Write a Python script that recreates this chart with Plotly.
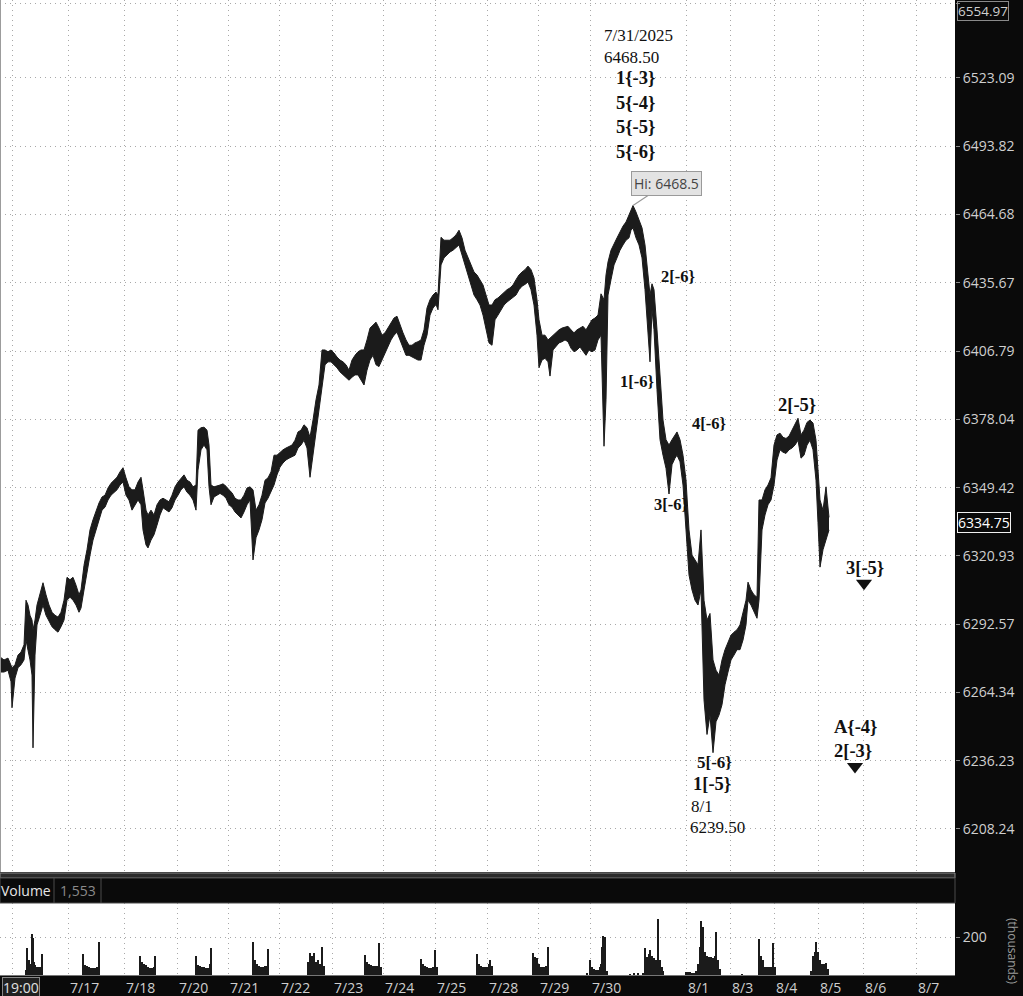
import numpy as np
import plotly.graph_objects as go

# ---------------- data ----------------
bar_idx = [0,4,8,11,12,15,18,21,24,26,28,30,32,33,35,37,40,43,46,49,52,55,58,61,64,67,70,73,76,79,81,84,87,90,93,96,99,
           102,105,108,111,114,117,120,123,126,129,132,135,138,141,143,146,148,151,154,157,160,163,166,169,172,175,178,181,
           184,187,190,193,196,198,201,204,207,209,211,214,217,220,223,226,229,232,235,238,241,244,247,250,253,256,259,262,
           265,268,271,274,277,280,283,286,289,292,295,298,301,304,307,310,313,316,319,322,325,328,331,334,337,340,343,346,
           349,352,355,358,361,364,367,370,373,376,379,382,385,388,391,394,397,400,403,406,409,412,415,418,421,424,427,430,
           433,436,438,441,444,447,450,453,456,459,462,465,468,471,474,477,480,483,486,489,492,495,498,501,504,507,510,513,
           516,519,522,525,528,531,534,537,539,542,545,548,550,553,556,559,562,565,568,571,574,577,580,583,586,589,592,595,
           598,601,604,606,608,611,614,617,620,623,626,629,631,633,636,639,642,645,648,650,652,654,657,660,663,666,669,672,
           675,677,680,683,686,689,692,695,698,701,704,707,710,713,716,719,722,725,728,731,734,737,740,743,746,748,751,754,
           757,759,762,765,768,771,774,777,780,783,786,789,792,795,798,801,804,807,810,813,816,818,820,823,826,829]

high = [6279.0,6277.75,6278.5,6275.75,6274.5,6275.75,6279.75,6281.0,6284.0,6302.5,6300.5,6296.25,6294.25,6290.25,6294.25,
        6300.5,6304.75,6309.75,6304.75,6300.5,6297.5,6296.25,6295.5,6297.5,6302.5,6312.0,6311.0,6312.0,6308.75,6304.75,
        6306.75,6317.0,6323.5,6331.75,6336.0,6340.0,6343.0,6345.5,6346.25,6349.25,6351.25,6352.5,6353.75,6356.0,6357.75,
        6353.5,6349.75,6348.5,6348.5,6351.75,6353.75,6348.5,6340.0,6338.0,6340.0,6338.0,6342.25,6344.25,6345.0,6344.25,
        6343.5,6346.25,6349.75,6351.75,6353.5,6354.75,6352.5,6351.75,6349.75,6350.5,6373.5,6374.5,6374.75,6373.5,6367.25,
        6350.5,6349.75,6350.0,6350.5,6351.0,6350.0,6348.5,6347.25,6345.0,6344.25,6344.25,6346.25,6349.25,6349.75,6348.5,
        6340.0,6342.25,6346.25,6352.5,6353.5,6356.0,6363.0,6363.0,6364.25,6365.25,6366.0,6366.5,6367.25,6369.25,6372.75,
        6373.5,6375.75,6374.5,6370.5,6377.75,6386.25,6392.5,6407.25,6407.25,6406.5,6407.25,6406.0,6404.25,6403.0,6402.25,
        6401.0,6398.75,6403.0,6405.0,6406.5,6407.25,6407.25,6411.5,6416.5,6417.75,6419.0,6416.5,6413.5,6414.5,6416.5,
        6418.75,6420.75,6421.5,6417.75,6414.5,6411.5,6409.25,6409.25,6410.25,6410.75,6411.5,6415.75,6425.0,6428.5,6430.5,
        6431.75,6430.5,6455.0,6453.75,6453.75,6453.75,6454.75,6456.0,6458.0,6454.75,6449.5,6446.25,6443.25,6440.25,6439.0,
        6437.0,6434.75,6430.5,6426.25,6426.25,6428.5,6429.25,6430.5,6431.75,6432.75,6433.5,6434.75,6437.0,6439.0,6440.25,
        6441.25,6442.75,6441.25,6437.75,6428.5,6420.0,6413.5,6413.5,6411.5,6412.25,6413.5,6414.75,6415.75,6416.5,6417.0,
        6417.25,6415.75,6414.5,6415.75,6416.5,6417.25,6415.75,6417.75,6420.0,6420.75,6422.0,6431.0,6428.5,6439.0,6444.5,
        6449.5,6452.5,6454.75,6457.25,6459.75,6461.5,6464.5,6466.5,6468.5,6465.75,6462.25,6459.0,6451.75,6437.0,6430.5,
        6435.25,6432.75,6415.75,6398.75,6377.75,6369.5,6367.25,6369.5,6371.5,6372.75,6369.5,6363.0,6352.5,6331.75,6321.25,
        6319.25,6317.25,6331.75,6302.5,6294.25,6297.0,6277.75,6273.5,6271.5,6277.75,6282.0,6285.25,6288.0,6289.25,6290.25,
        6292.25,6297.5,6302.5,6310.0,6306.75,6304.75,6303.75,6344.25,6344.25,6348.5,6350.5,6353.5,6367.25,6371.5,6372.25,
        6370.5,6370.0,6371.0,6373.5,6375.5,6378.5,6371.5,6373.5,6376.75,6377.75,6376.5,6369.25,6356.75,6344.25,6340.0,
        6349.75,6337.0]

low = [6272.75,6272.75,6273.5,6268.75,6258.0,6270.25,6274.5,6275.75,6277.75,6286.0,6281.75,6277.75,6271.5,6241.5,6279.75,
       6292.25,6296.25,6300.5,6296.25,6293.5,6291.5,6290.25,6289.25,6291.5,6294.25,6302.5,6303.75,6302.5,6300.5,6297.5,
       6299.25,6306.75,6315.0,6321.25,6327.5,6331.75,6336.0,6340.0,6341.25,6344.25,6346.25,6347.5,6348.5,6350.5,6351.75,
       6346.25,6344.25,6340.0,6342.25,6344.25,6342.25,6331.75,6325.5,6324.25,6327.5,6329.75,6333.75,6338.0,6341.0,6340.0,
       6339.25,6341.0,6344.25,6346.25,6348.5,6349.75,6347.5,6346.25,6344.25,6340.0,6356.75,6365.25,6367.25,6365.25,6349.75,
       6342.25,6345.5,6346.25,6347.0,6346.25,6345.0,6342.25,6341.25,6339.25,6338.0,6336.75,6339.25,6342.25,6344.25,6319.25,
       6328.5,6331.75,6336.0,6343.0,6345.0,6347.5,6350.5,6354.75,6358.0,6359.75,6361.0,6361.75,6362.25,6363.0,6366.0,
       6367.25,6369.25,6366.0,6353.75,6363.0,6373.5,6382.0,6390.5,6401.0,6402.25,6402.25,6401.0,6399.75,6398.0,6396.75,
       6395.5,6394.5,6395.75,6396.75,6396.75,6394.5,6392.5,6398.75,6403.0,6405.0,6401.0,6400.25,6403.0,6406.5,6409.25,
       6411.5,6413.5,6414.75,6411.5,6408.0,6405.0,6405.0,6404.25,6403.75,6403.0,6403.0,6409.25,6413.5,6422.0,6425.0,
       6426.5,6424.25,6443.25,6446.25,6447.5,6448.75,6449.5,6450.5,6451.75,6447.5,6443.25,6439.0,6434.75,6430.5,6428.5,
       6426.25,6422.0,6415.75,6410.25,6409.25,6420.0,6422.0,6424.25,6426.25,6427.5,6428.5,6429.25,6430.5,6432.75,6434.25,
       6435.0,6436.0,6432.75,6426.25,6413.5,6399.75,6403.0,6403.75,6402.25,6396.25,6407.25,6409.0,6410.25,6410.75,6411.5,
       6410.75,6408.0,6406.5,6407.25,6408.5,6406.5,6405.0,6407.25,6406.5,6407.25,6411.5,6413.5,6366.75,6386.25,6430.5,
       6437.0,6443.25,6446.25,6449.5,6451.75,6453.75,6454.75,6458.0,6459.0,6454.75,6451.75,6446.25,6432.75,6415.75,6402.25,
       6424.25,6415.75,6390.5,6369.5,6363.0,6357.5,6346.75,6359.0,6361.75,6363.0,6360.25,6350.5,6331.75,6313.0,6306.75,
       6302.5,6300.5,6306.75,6261.25,6247.0,6255.0,6239.5,6252.25,6255.0,6259.25,6267.5,6272.75,6277.75,6279.75,6282.0,
       6282.0,6286.0,6292.25,6302.5,6300.5,6297.5,6295.0,6302.5,6331.75,6338.0,6342.25,6344.25,6350.5,6361.0,6365.25,
       6364.25,6363.75,6365.25,6366.0,6367.25,6369.25,6361.75,6363.0,6367.25,6369.25,6365.25,6352.5,6334.75,6316.25,6323.5,
       6327.5,6331.75]

vol_bar = [26,27,29,30,32,33,34,35,37,39,41,42,
           83,85,87,89,91,93,95,97,99,
           140,142,144,146,148,150,152,154,155,
           196,198,200,202,204,206,208,210,211,
           253,255,257,259,261,263,265,266,268,
           308,310,312,314,316,318,320,322,324,
           365,367,369,371,373,375,377,379,381,
           421,423,425,427,429,431,433,435,437,
           477,479,481,483,485,487,489,490,492,
           533,535,537,539,541,543,545,546,548,
           587,590,592,594,596,598,600,601,602,603,605,607,
           630,634,638,643,645,647,649,650,652,654,656,658,660,662,663,
           686,688,690,692,694,696,698,700,701,703,705,707,709,711,713,715,716,718,720,
           742,759,761,763,765,767,769,771,773,775,
           811,813,815,816,818,820,822,824,826,828]
vol_k = [26,140,79,60,216,193,70,55,40,40,40,109,
         110,55,50,40,35,35,38,40,175,
         102,70,60,55,40,38,35,40,102,
         102,55,48,44,40,38,35,60,140,
         175,79,60,50,44,44,48,50,135,
         70,114,100,114,70,80,60,149,50,
         105,70,60,53,45,45,50,170,40,
         84,60,45,40,35,35,40,131,40,
         110,60,50,44,40,44,60,79,50,
         117,96,90,60,44,44,40,45,149,
         9,79,40,30,26,26,40,60,149,205,202,20,
         5,8,9,12,145,96,110,131,100,90,80,293,79,40,20,
         15,15,15,12,8,20,60,150,284,254,120,100,96,96,90,100,228,79,30,
         5,188,100,79,44,40,40,40,167,40,
         20,100,123,175,120,79,60,60,61,30]

price_ticks = [6554.97, 6523.09, 6493.82, 6464.68, 6435.67, 6406.79, 6378.04,
               6349.42, 6320.93, 6292.57, 6264.34, 6236.23, 6208.24]
last_price = 6334.75
session_grid = [12]
day_labels = ['7/17','7/18','7/20','7/21','7/22','7/23','7/24','7/25','7/28','7/29','7/30',
              '8/1','8/3','8/4','8/5','8/6','8/7']
day_start = [68,124,177,228,279,332,383,435,487,538,590,686,730,774,818,863,916]

# wave labels: (text, bar, price level, bold, size, anchor)
wave_labels = [
    ('7/31/2025', 602, 6541.2, False, 17, 'left'),
    ('6468.50', 602, 6531.7, False, 17, 'left'),
    ('1{-3}', 635, 6523.1, True, 18.5, 'center'),
    ('5{-4}', 635, 6512.4, True, 18.5, 'center'),
    ('5{-5}', 635, 6502.1, True, 18.5, 'center'),
    ('5{-6}', 635, 6491.4, True, 18.5, 'center'),
    ('2[-6}', 659, 6438.2, True, 16.5, 'left'),
    ('1[-6}', 618, 6393.8, True, 16.5, 'left'),
    ('4[-6}', 690, 6376.5, True, 16.5, 'left'),
    ('3[-6}', 652, 6342.2, True, 16.5, 'left'),
    ('2[-5}', 776, 6384.1, True, 18.5, 'left'),
    ('5[-6}', 695, 6235.3, True, 17, 'left'),
    ('1[-5}', 691, 6226.6, True, 18.5, 'left'),
    ('8/1', 689, 6217.6, False, 17, 'left'),
    ('6239.50', 688, 6209.0, False, 17, 'left'),
    ('3[-5}', 844, 6315.9, True, 18.5, 'left'),
    ('A{-4}', 832, 6250.1, True, 18.5, 'left'),
    ('2[-3}', 832, 6240.2, True, 18.5, 'left'),
]
target_bar = [864, 855]
target_price = [6309.5, 6233.8]
hi_bar, hi_price = 633, 6468.5

# ---------------- figure ----------------
W, H = 1023, 996
GRID = '#a8a8a8'
GDASH = '1px,4px'
LBL = '#cfcfcf'
SANS = 'Open Sans'
SERIF = 'Liberation Serif'

fig = go.Figure()
fig.add_trace(go.Scatter(x=bar_idx, y=low, mode='lines', line=dict(color='#1b1b1b', width=1),
                         hoverinfo='skip', showlegend=False))
fig.add_trace(go.Scatter(x=bar_idx, y=high, mode='lines', line=dict(color='#1b1b1b', width=1),
                         fill='tonexty', fillcolor='#1b1b1b', hoverinfo='skip', showlegend=False))
fig.add_trace(go.Scatter(x=target_bar, y=target_price, mode='markers',
                         marker=dict(symbol='triangle-down', size=14, color='#111'),
                         hoverinfo='skip', showlegend=False))
fig.add_trace(go.Bar(x=vol_bar, y=vol_k, width=2, marker=dict(color='#1b1b1b', line=dict(width=0)),
                     xaxis='x2', yaxis='y2', showlegend=False, hoverinfo='skip'))

main_lo, main_hi = 6190.66, 6556.69
main_dom = [1 - 872 / 975, 1]
vol_dom = [0, 72 / 975]

grid_x = session_grid + day_start
ax_common = dict(range=[0, 955], tickvals=grid_x, showticklabels=False, showgrid=True,
                 gridcolor=GRID, griddash=GDASH, gridwidth=1, zeroline=False, ticks='')
fig.update_layout(
    width=W, height=H,
    margin=dict(l=0, r=68, t=0, b=21),
    paper_bgcolor='#0a0a0a', plot_bgcolor='white',
    bargap=0,
    xaxis=dict(domain=[0, 1], anchor='y', **ax_common),
    xaxis2=dict(domain=[0, 1], anchor='y2', matches='x', showline=True, linecolor='#777', **ax_common),
    yaxis=dict(domain=main_dom, type='log', range=[np.log10(main_lo), np.log10(main_hi)],
               side='right', tickvals=price_ticks,
               ticktext=[''] + [f'{v:.2f}' for v in price_ticks[1:]],
               tickfont=dict(family=SANS, size=14, color=LBL),
               ticks='outside', ticklen=4, tickcolor='#888',
               showgrid=True, gridcolor=GRID, griddash=GDASH, zeroline=False),
    yaxis2=dict(domain=vol_dom, range=[0, 380], side='right', anchor='x2',
                tickvals=[200], ticktext=['200'],
                tickfont=dict(family=SANS, size=14, color=LBL),
                ticks='outside', ticklen=4, tickcolor='#888',
                showgrid=True, gridcolor=GRID, griddash=GDASH, zeroline=False),
)

ann = []
for txt, b, p, bold, sz, anc in wave_labels:
    ann.append(dict(x=b, y=np.log10(p), xref='x', yref='y', text=(f'<b>{txt}</b>' if bold else txt),
                    showarrow=False, xanchor=anc, yanchor='middle',
                    font=dict(family=SERIF, size=sz, color='#111')))
ann.append(dict(x=hi_bar, y=np.log10(hi_price), xref='x', yref='y', text='Hi: 6468.5',
                showarrow=True, arrowhead=0, arrowwidth=1.2, arrowcolor='#999', ax=33, ay=-22,
                bgcolor='#e3e3e3', bordercolor='#9a9a9a', borderwidth=1, borderpad=2,
                font=dict(family=SANS, size=14, color='#444')))
# price-axis boxes
ann.append(dict(x=1, y=1, xref='paper', yref='paper', text='6554.97',
                showarrow=False, xanchor='left', yanchor='top', xshift=2, yshift=-1,
                bordercolor='#8a8a8a', borderwidth=1, borderpad=0,
                font=dict(family=SANS, size=13.5, color=LBL)))
ann.append(dict(x=1, y=np.log10(last_price), xref='paper', yref='y', text=f'{last_price:.2f}',
                showarrow=False, xanchor='left', xshift=2, bordercolor='#f0f0f0', borderwidth=1,
                borderpad=0, font=dict(family=SANS, size=14, color='#ffffff')))
# date labels
for lab, b in zip(day_labels, day_start):
    ann.append(dict(x=b, y=0, xref='x2', yref='paper', text=lab, showarrow=False,
                    xanchor='left', yanchor='top', yshift=-1, font=dict(family=SANS, size=14, color=LBL)))
ann.append(dict(x=0, y=0, xref='x2', yref='paper', text='19:00', showarrow=False,
                xanchor='left', yanchor='top', xshift=2, yshift=-2, bordercolor='#888', borderwidth=1,
                borderpad=0, bgcolor='#202020', font=dict(family=SANS, size=14, color='#e0e0e0')))
# volume header
hdr_y = (975 - 890.5) / 975
ann.append(dict(x=0, y=hdr_y, xref='paper', yref='paper', text='Volume', showarrow=False,
                xanchor='left', yanchor='middle', xshift=-1, font=dict(family=SANS, size=14, color='#e6e6e6')))
ann.append(dict(x=58 / 955, y=hdr_y, xref='paper', yref='paper', text='1,553', showarrow=False,
                xanchor='left', yanchor='middle', font=dict(family=SANS, size=14, color='#8a8a8a')))
ann.append(dict(x=1 + 58 / 955, y=(975 - 952) / 975, xref='paper', yref='paper', text='(thousands)',
                showarrow=False, textangle=90, xanchor='center', yanchor='middle',
                font=dict(family=SANS, size=12, color='#9a9a9a')))
fig.update_layout(annotations=ann)

shapes = [
    dict(type='rect', xref='paper', yref='paper', x0=0, x1=1, y0=(975 - 878) / 975, y1=(975 - 873) / 975,
         fillcolor='#2c2c2c', line=dict(color='#8a8a8a', width=1), layer='above'),
    dict(type='rect', xref='paper', yref='paper', x0=0, x1=1, y0=(975 - 903) / 975, y1=(975 - 878) / 975,
         fillcolor='#0a0a0a', line=dict(color='#4a4a4a', width=1), layer='above'),
    dict(type='line', xref='paper', yref='paper', x0=54 / 955, x1=54 / 955, y0=(975 - 903) / 975,
         y1=(975 - 878) / 975, line=dict(color='#4a4a4a', width=1)),
    dict(type='line', xref='paper', yref='paper', x0=101 / 955, x1=101 / 955, y0=(975 - 903) / 975,
         y1=(975 - 878) / 975, line=dict(color='#4a4a4a', width=1)),
    dict(type='line', xref='paper', yref='paper', x0=0.0005, x1=0.0005, y0=main_dom[0], y1=1,
         line=dict(color='#9a9a9a', width=1)),
]
fig.update_layout(shapes=shapes)

fig.write_html('out.html', config={'displayModeBar': False},
               post_script="document.body.style.margin='0';document.body.style.padding='0';"
                           "document.documentElement.style.overflow='hidden';")
